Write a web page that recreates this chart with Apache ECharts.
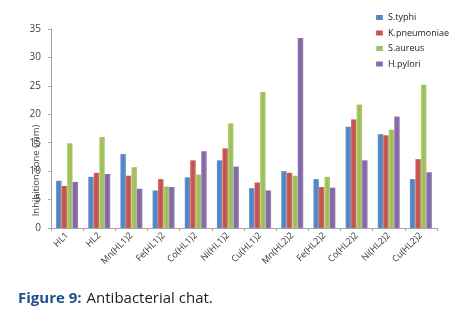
<!DOCTYPE html>
<html>
<head>
<meta charset="utf-8">
<script src="https://cdn.jsdelivr.net/npm/echarts@6/dist/echarts.min.js"></script>
<style>
  html, body { margin: 0; padding: 0; background: #fff; }
  #chart { width: 467px; height: 318px; }
</style>
</head>
<body>
<div id="chart"></div>
<script>
// categories (compounds)
var compounds = ['HL1', 'HL2', 'Mn(HL1)2', 'Fe(HL1)2', 'Co(HL1)2', 'Ni(HL1)2',
  'Cu(HL1)2', 'Mn(HL2)2', 'Fe(HL2)2', 'Co(HL2)2', 'Ni(HL2)2', 'Cu(HL2)2'];

// inhibition zone (mm)
var sTyphi = [8.3, 9.0, 13.0, 6.6, 8.9, 11.9, 7.0, 10.0, 8.6, 17.8, 16.5, 8.6];
var kPneumoniae = [7.4, 9.7, 9.2, 8.6, 11.9, 14.0, 8.0, 9.7, 7.2, 19.1, 16.3, 12.1];
var sAureus = [14.9, 16.0, 10.7, 7.3, 9.4, 18.4, 23.9, 9.2, 9.0, 21.7, 17.3, 25.2];
var hPylori = [8.1, 9.5, 6.9, 7.2, 13.5, 10.8, 6.6, 33.4, 7.1, 11.9, 19.6, 9.8];

var yTicks = [0, 5, 10, 15, 20, 25, 30, 35];

var myChart = echarts.init(document.getElementById('chart'));

function bar(name, data, color) {
  return {
    name: name,
    type: 'bar',
    barWidth: 5.5,
    barGap: '0%',
    data: data,
    itemStyle: {
      color: new echarts.graphic.LinearGradient(0, 0, 1, 0, [
        { offset: 0, color: echarts.color.lift(color, -0.15) },
        { offset: 0.5, color: color },
        { offset: 1, color: echarts.color.lift(color, 0.2) }
      ])
    }
  };
}

var option = {
  animation: false,
  color: ['#4F81BD', '#C0504D', '#9BBB59', '#8064A2'],
  title: {
    text: '{b|Figure 9:} {n|Antibacterial chat.}',
    left: 13,
    top: 285,
    textStyle: {
      rich: {
        b: { fontFamily: 'Open Sans', fontWeight: 'bold', fontSize: 15, color: '#1F4E8C' },
        n: { fontFamily: 'Open Sans', fontWeight: 'normal', fontSize: 15, color: '#222' }
      }
    }
  },
  legend: {
    orient: 'vertical',
    left: 371,
    top: 8,
    itemWidth: 7,
    itemHeight: 5,
    itemGap: 6.5,
    icon: 'rect',
    textStyle: { fontSize: 9, color: '#222', fontFamily: 'Open Sans' },
    data: ['S.typhi', 'K.pneumoniae', 'S.aureus', 'H.pylori']
  },
  grid: {
    left: 51,
    right: 30,
    top: 29,
    bottom: 90
  },
  xAxis: {
    type: 'category',
    data: compounds,
    axisLine: { lineStyle: { color: '#a6a6a6' } },
    axisTick: { show: true, length: 3, lineStyle: { color: '#a6a6a6' } },
    axisLabel: {
      rotate: 45,
      fontSize: 9,
      color: '#333',
      margin: 6,
      interval: 0,
      fontFamily: 'Open Sans'
    }
  },
  yAxis: {
    type: 'value',
    min: yTicks[0],
    max: yTicks[yTicks.length - 1],
    interval: 5,
    name: 'Inhibition zone (mm)',
    nameLocation: 'middle',
    nameGap: 10,
    nameMoveOverlap: false,
    nameTextStyle: {
      fontSize: 9.5,
      color: '#444',
      fontFamily: 'Open Sans',
      padding: [0, 84, 0, 0]
    },
    splitLine: { show: false },
    axisLine: { show: true, lineStyle: { color: '#a6a6a6' } },
    axisTick: { show: true, length: 3, lineStyle: { color: '#a6a6a6' } },
    axisLabel: { fontSize: 10, color: '#444', margin: 10, fontFamily: 'Open Sans' }
  },
  series: [
    bar('S.typhi', sTyphi, '#4F81BD'),
    bar('K.pneumoniae', kPneumoniae, '#C0504D'),
    bar('S.aureus', sAureus, '#9BBB59'),
    bar('H.pylori', hPylori, '#8064A2')
  ]
};

myChart.setOption(option, true);
</script>
</body>
</html>
